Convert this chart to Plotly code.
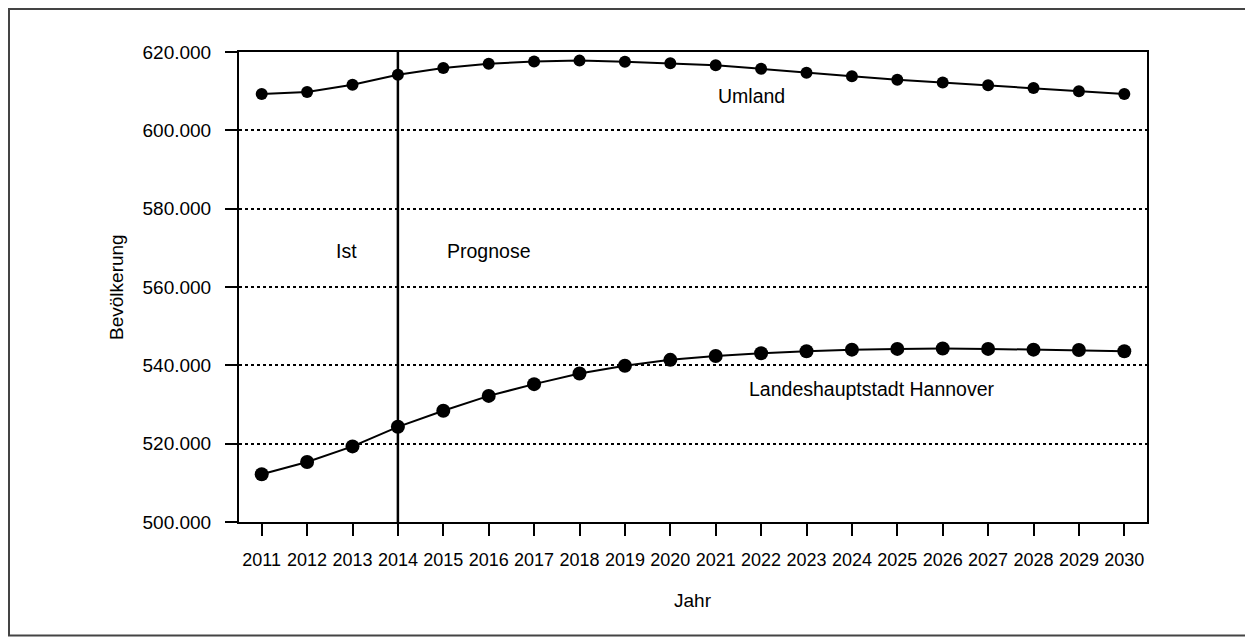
import plotly.graph_objects as go

# Bevölkerungsprognose Region Hannover, 2011-2030
YEARS = list(range(2011, 2031))

UMLAND = [
    609300, 609800, 611650, 614200, 615900, 617000, 617600, 617800, 617500, 617100,
    616600, 615700, 614700, 613800, 612900, 612200, 611500, 610800, 610000, 609300,
]

HANNOVER = [
    512200, 515300, 519300, 524300, 528400, 532200, 535200, 537900, 539900, 541400,
    542400, 543100, 543600, 544000, 544200, 544300, 544200, 544000, 543900, 543600,
]

Y_TICKS = [500000, 520000, 540000, 560000, 580000, 600000, 620000]
PROGNOSE_START = 2014

FONT = "Liberation Sans, Arial, sans-serif"

fig = go.Figure()

fig.add_trace(go.Scatter(
    x=YEARS, y=UMLAND, mode="lines+markers", name="Umland",
    line=dict(color="black", width=2),
    marker=dict(color="black", size=12),
))
fig.add_trace(go.Scatter(
    x=YEARS, y=HANNOVER, mode="lines+markers", name="Landeshauptstadt Hannover",
    line=dict(color="black", width=2),
    marker=dict(color="black", size=14),
))

# Trennlinie Ist / Prognose
fig.add_shape(type="line", xref="x", yref="paper",
              x0=PROGNOSE_START, x1=PROGNOSE_START, y0=0, y1=1,
              line=dict(color="black", width=2.5))

# Rahmen um die Grafik
fig.add_shape(type="rect", xref="paper", yref="paper",
              x0=-0.2533, x1=1.1145, y0=-0.2415, y1=1.0915,
              line=dict(color="#444444", width=2), layer="below")

labels = [
    ("Umland", 2021.78, 608700),
    ("Landeshauptstadt Hannover", 2024.44, 534000),
    ("Ist", 2012.86, 569300),
    ("Prognose", 2016.0, 569300),
]
for text, x, y in labels:
    fig.add_annotation(x=x, y=y, text=text, showarrow=False,
                       xanchor="center", yanchor="middle",
                       font=dict(size=19.5, color="black"))

# Achsentitel
fig.add_annotation(xref="paper", yref="paper", x=-0.1355, y=0.5,
                   text="Bevölkerung", textangle=-90, showarrow=False,
                   xanchor="center", yanchor="middle",
                   font=dict(size=19, color="black"))
fig.add_annotation(xref="paper", yref="paper", x=0.5, y=-0.168,
                   text="Jahr", showarrow=False,
                   xanchor="center", yanchor="middle",
                   font=dict(size=19, color="black"))

fig.update_xaxes(
    range=[2010.5, 2030.5], tickvals=YEARS, ticktext=[str(y) for y in YEARS],
    showgrid=False, zeroline=False,
    showline=True, linecolor="black", linewidth=2, mirror=True,
    ticks="outside", ticklen=12, tickwidth=2, tickcolor="black",
    ticklabelstandoff=8,
    tickfont=dict(size=18, color="black"),
)
fig.update_yaxes(
    range=[500000, 620000], tickvals=Y_TICKS, tickformat=",.0f",
    showgrid=True, gridcolor="black", gridwidth=1.5, griddash="dot",
    zeroline=False,
    showline=True, linecolor="black", linewidth=2, mirror=True,
    ticks="outside", ticklen=12, tickwidth=2, tickcolor="black",
    ticklabelstandoff=10,
    tickfont=dict(size=19, color="black"),
)

fig.update_layout(
    width=1245, height=629,
    margin=dict(l=231, r=106, t=44, b=115),
    paper_bgcolor="white", plot_bgcolor="white",
    separators=",.",
    showlegend=False,
    font=dict(family=FONT, size=18, color="black"),
)

fig.write_html("out.html")
